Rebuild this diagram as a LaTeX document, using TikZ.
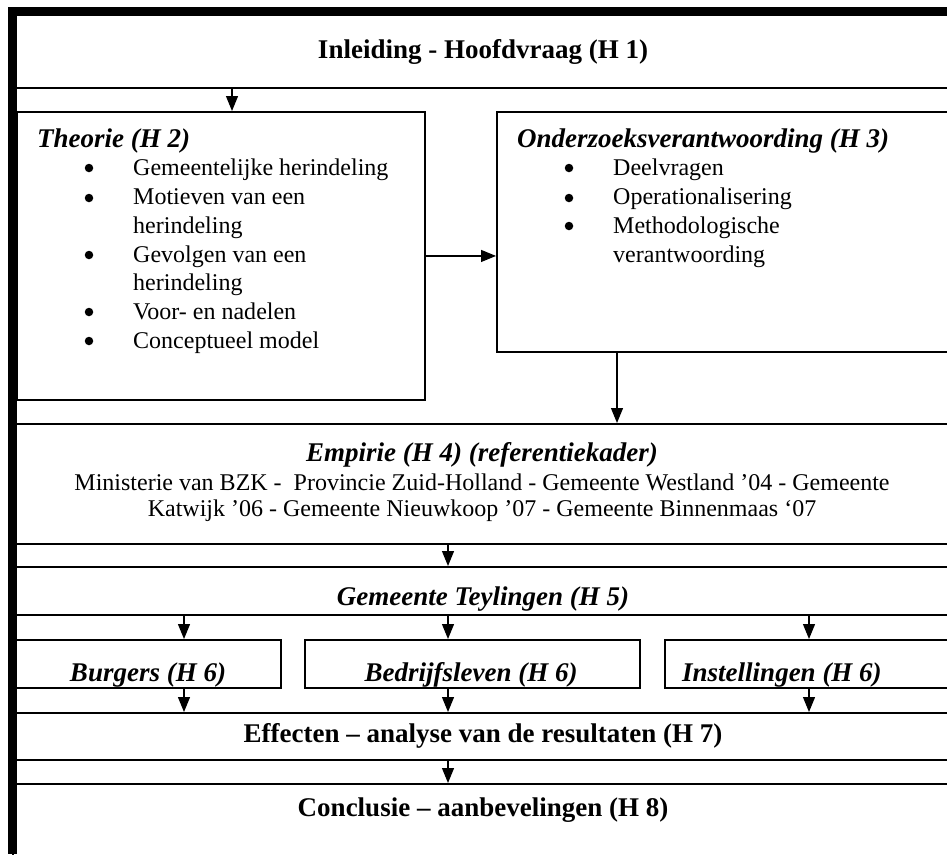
\documentclass[tikz,border=0pt]{standalone}
\usepackage{fontspec}
\setmainfont{Liberation Serif}
\usetikzlibrary{arrows.meta}
\newcommand\mybody{\fontsize{24}{28.8}\selectfont}
\newcommand\myhead{\fontsize{27}{32}\selectfont\bfseries}
\newcommand\myheadit{\fontsize{27}{32}\selectfont\bfseries\itshape}
\begin{document}
\begin{tikzpicture}[x=1pt,y=-1pt,
  box/.style={draw, line width=1.9pt, inner sep=0pt, anchor=north west},
  arr/.style={line width=1.2pt, -{Triangle[width=12pt,length=15pt]}},
  txt/.style={inner sep=0pt, anchor=base},
  ltxt/.style={inner sep=0pt, anchor=base west},
  bul/.style={circle, fill=black, inner sep=0pt, minimum size=8.5pt},
]
\useasboundingbox (0,0) rectangle (947,854);
\clip (0,0) rectangle (947,854);
\fill[white] (0,0) rectangle (947,854);

% boxes
\node[box, minimum width=948pt, minimum height=76pt] (h1) at (12,11) {};
\node[box, minimum width=408pt, minimum height=288pt] (theorie) at (16,111) {};
\node[box, minimum width=464pt, minimum height=240pt] (onderzoek) at (496,111) {};
\node[box, minimum width=948pt, minimum height=120pt] (empirie) at (12,423) {};
\node[box, minimum width=948pt, minimum height=48pt] (teylingen) at (12,566) {};
\node[box, minimum width=268pt, minimum height=48pt] (burgers) at (12,639) {};
\node[box, minimum width=335pt, minimum height=48pt] (bedrijf) at (304,639) {};
\node[box, minimum width=296pt, minimum height=48pt] (instel) at (664,639) {};
\node[box, minimum width=948pt, minimum height=47pt] (effecten) at (12,712) {};
\node[box, minimum width=948pt, minimum height=90pt] (conclusie) at (12,783) {};

% texts
\node[txt, font=\myhead] (t1) at (483,58) {Inleiding - Hoofdvraag (H 1)};

\node[ltxt, font=\myheadit] (t2) at (37,147) {Theorie (H 2)};
\node[bul] (b21) at (89,168) {};
\node[ltxt, font=\mybody] (i21) at (133,175) {Gemeentelijke herindeling};
\node[bul] (b22) at (89,198) {};
\node[ltxt, font=\mybody] (i22) at (133,204) {Motieven van een};
\node[ltxt, font=\mybody] (i22b) at (133,233) {herindeling};
\node[bul] (b23) at (89,255) {};
\node[ltxt, font=\mybody] (i23) at (133,262) {Gevolgen van een};
\node[ltxt, font=\mybody] (i23b) at (133,290) {herindeling};
\node[bul] (b24) at (89,312) {};
\node[ltxt, font=\mybody] (i24) at (133,319) {Voor- en nadelen};
\node[bul] (b25) at (89,341) {};
\node[ltxt, font=\mybody] (i25) at (133,348) {Conceptueel model};

\node[ltxt, font=\myheadit] (t3) at (517,147) {Onderzoeksverantwoording (H 3)};
\node[bul] (b31) at (569,168) {};
\node[ltxt, font=\mybody] (i31) at (613,175) {Deelvragen};
\node[bul] (b32) at (569,198) {};
\node[ltxt, font=\mybody] (i32) at (613,204) {Operationalisering};
\node[bul] (b33) at (569,226) {};
\node[ltxt, font=\mybody] (i33) at (613,233) {Methodologische};
\node[ltxt, font=\mybody] (i33b) at (613,262) {verantwoording};

\node[txt, font=\myheadit] (t4) at (482,461) {Empirie (H 4) (referentiekader)};
\node[txt, font=\mybody] (t4a) at (482,490) {Ministerie van BZK -\ \ Provincie Zuid-Holland - Gemeente Westland ’04 - Gemeente};
\node[txt, font=\mybody] (t4b) at (482,516) {Katwijk ’06 - Gemeente Nieuwkoop ’07 - Gemeente Binnenmaas ‘07};

\node[txt, font=\myheadit] (t5) at (483,605) {Gemeente Teylingen (H 5)};
\node[txt, font=\myheadit] (t6a) at (148,681) {Burgers (H 6)};
\node[txt, font=\myheadit] (t6b) at (471,681) {Bedrijfsleven (H 6)};
\node[ltxt, font=\myheadit] (t6c) at (682,681) {Instellingen (H 6)};
\node[txt, font=\myhead] (t7) at (483,742) {Effecten – analyse van de resultaten (H 7)};
\node[txt, font=\myhead] (t8) at (483,816) {Conclusie – aanbevelingen (H 8)};

% connector columns
\coordinate (xa) at (232,0);
\coordinate (xb) at (617,0);
\coordinate (xl) at (184,0);
\coordinate (xm) at (448,0);
\coordinate (xr) at (809,0);

\draw[arr] (xa |- h1.south) -- (xa |- theorie.north);
\draw[arr] (theorie.east) -- (theorie.east -| onderzoek.west);
\draw[arr] (xb |- onderzoek.south) -- (xb |- empirie.north);
\draw[arr] (xm |- empirie.south) -- (xm |- teylingen.north);
\draw[arr] (xl |- teylingen.south) -- (xl |- burgers.north);
\draw[arr] (xm |- teylingen.south) -- (xm |- bedrijf.north);
\draw[arr] (xr |- teylingen.south) -- (xr |- instel.north);
\draw[arr] (xl |- burgers.south) -- (xl |- effecten.north);
\draw[arr] (xm |- bedrijf.south) -- (xm |- effecten.north);
\draw[arr] (xr |- instel.south) -- (xr |- effecten.north);
\draw[arr] (xm |- effecten.south) -- (xm |- conclusie.north);

% thick frame bars
\fill (8,7) rectangle (947,16);
\fill (8,7) rectangle (17,854);
\end{tikzpicture}
\end{document}
